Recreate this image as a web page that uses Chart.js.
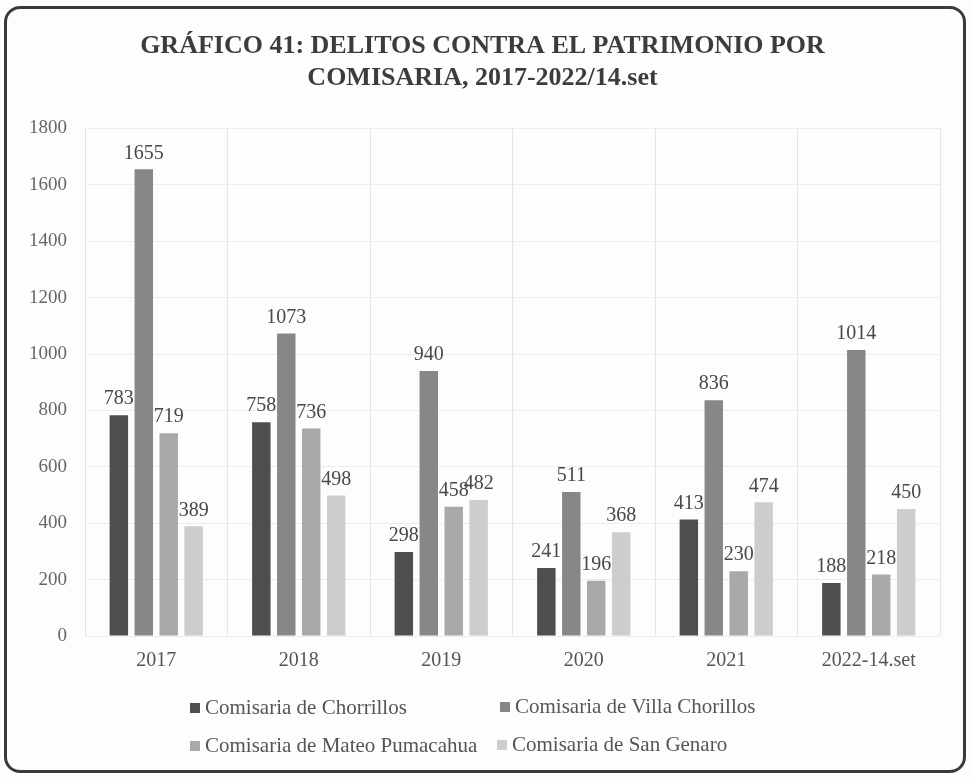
<!DOCTYPE html>
<html>
<head>
<meta charset="utf-8">
<script src="https://cdn.jsdelivr.net/npm/chart.js@4.4.0/dist/chart.umd.min.js"></script>
<style>
  html, body { margin: 0; padding: 0; background: #ffffff; }
  #wrap { position: relative; width: 973px; height: 779px; background: #fdfdfc; }
  #frame { position: absolute; left: 4px; top: 6px; width: 956px; height: 761px; border: 3px solid #3a3a3a; border-radius: 16px; pointer-events: none; }
  canvas { position: absolute; left: 0; top: 0; }
  .leg { position: absolute; font-family: 'Liberation Serif', 'DejaVu Serif', serif; font-size: 21px; color: #555; white-space: nowrap; line-height: 24px; }
  .leg span.box { display: inline-block; width: 10px; height: 10px; margin-right: 5px; vertical-align: 1px; }
</style>
</head>
<body>
<div id="wrap">
  <canvas id="c" width="973" height="779"></canvas>
  <div id="legend"></div>
  <div id="frame"></div>
</div>
<script>
const categories = ["2017", "2018", "2019", "2020", "2021", "2022-14.set"];
const seriesNames = ["Comisaria de Chorrillos", "Comisaria de Villa Chorillos", "Comisaria de Mateo Pumacahua", "Comisaria de San Genaro"];
const chorrillos = [783, 758, 298, 241, 413, 188];
const villaChorillos = [1655, 1073, 940, 511, 836, 1014];
const mateoPumacahua = [719, 736, 458, 196, 230, 218];
const sanGenaro = [389, 498, 482, 368, 474, 450];
const yTicks = [0, 200, 400, 600, 800, 1000, 1200, 1400, 1600, 1800];
const colors = ["#4e4e4e", "#878787", "#a9a9a9", "#cdcdcd"];

const serif = "'Liberation Serif', 'DejaVu Serif', serif";

const valueLabels = {
  id: 'valueLabels',
  afterDatasetsDraw(chart) {
    const ctx = chart.ctx;
    ctx.save();
    ctx.font = '20px ' + serif;
    ctx.fillStyle = '#484848';
    ctx.textAlign = 'center';
    ctx.textBaseline = 'bottom';
    chart.data.datasets.forEach((ds, i) => {
      const meta = chart.getDatasetMeta(i);
      meta.data.forEach((bar, j) => {
        ctx.fillText(String(ds.data[j]), bar.x, bar.y - 6);
      });
    });
    ctx.restore();
  }
};

const chart = new Chart(document.getElementById('c'), {
  type: 'bar',
  data: {
    labels: categories,
    datasets: [chorrillos, villaChorillos, mateoPumacahua, sanGenaro].map((d, i) => ({
      label: seriesNames[i],
      data: d,
      backgroundColor: colors[i],
      borderWidth: 0,
      barPercentage: 0.74,
      categoryPercentage: 0.7
    }))
  },
  options: {
    responsive: false,
    animation: false,
    devicePixelRatio: 1,
    layout: { padding: { left: 25, right: 33, top: 0, bottom: 103 } },
    plugins: {
      legend: { display: false },
      tooltip: { enabled: false },
      title: {
        display: true,
        text: ["GRÁFICO 41: DELITOS CONTRA EL PATRIMONIO POR", "COMISARIA, 2017-2022/14.set"],
        font: { family: serif, size: 26, weight: 'bold', lineHeight: 1.2 },
        color: '#3c3c3c',
        padding: { top: 31, bottom: 35 }
      }
    },
    scales: {
      x: {
        grid: { display: true, color: '#e4e4e4', drawTicks: false, offset: true },
        border: { display: false },
        ticks: { font: { family: serif, size: 20 }, color: '#555', padding: 13 },
        afterFit(s) { s.height = 40; }
      },
      y: {
        min: 0, max: 1800,
        afterBuildTicks(s) { s.ticks = yTicks.map(v => ({ value: v })); },
        grid: { color: '#ececec', drawTicks: false },
        border: { display: false },
        ticks: { font: { family: serif, size: 19 }, color: '#666', padding: 18, callback: v => String(v) },
        afterFit(s) { s.width = 60; }
      }
    }
  },
  plugins: [valueLabels]
});

// HTML legend built from the datasets
const legendPos = [[190, 695], [500, 694], [190, 733], [497, 732]];
const legendEl = document.getElementById('legend');
chart.data.datasets.forEach((ds, i) => {
  const d = document.createElement('div');
  d.className = 'leg';
  d.style.left = legendPos[i][0] + 'px';
  d.style.top = legendPos[i][1] + 'px';
  d.innerHTML = '<span class="box" style="background:' + ds.backgroundColor + '"></span>' + ds.label;
  legendEl.appendChild(d);
});
</script>
</body>
</html>
